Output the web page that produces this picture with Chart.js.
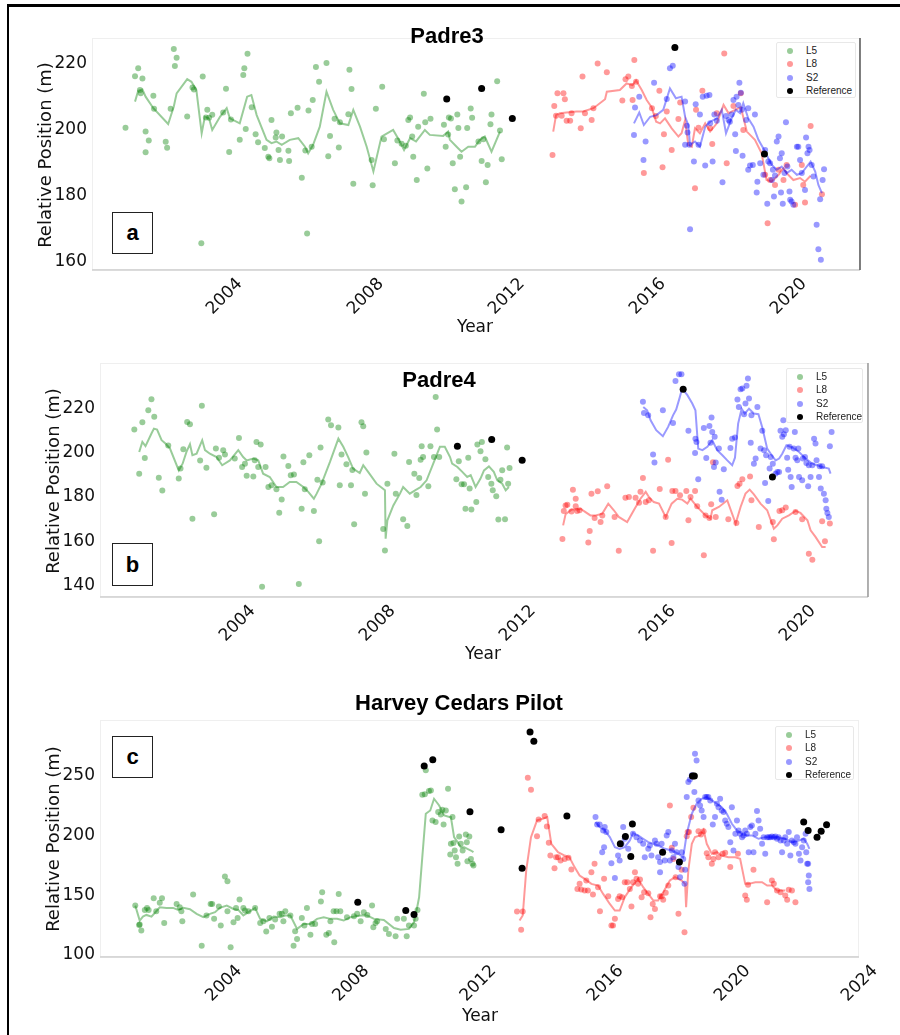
<!DOCTYPE html>
<html lang="en">
<head>
<meta charset="UTF-8">
<title>Relative Position</title>
<script src="https://cdn.jsdelivr.net/npm/chart.js"></script>
<style>
    body { margin: 0; background: #fff; font-family: "DejaVu Sans", sans-serif; }
    #page { position: relative; width: 900px; height: 1035px; overflow: hidden; }
    .frame { position: absolute; left: 7px; top: 4px; width: 1000px; height: 1040px;
             border-left: 2.5px solid #000; border-top: 3px solid #000; }
    canvas { position: absolute; left: 0; }
    .title { position: absolute; transform: translate(-50%, -50%); white-space: nowrap;
             font: bold 22px "Liberation Sans", Arial, sans-serif; color: #000; }
    .ytitle { position: absolute; transform: translate(-50%, -50%) rotate(-90deg); white-space: nowrap;
              font-size: 18px; color: #111; }
    .xtitle { position: absolute; transform: translate(-50%, -50%); font-size: 17px; color: #111; }
    .tag { position: absolute; width: 41px; height: 42px; box-sizing: border-box; border: 1.5px solid #222;
           background: #fff; display: flex; align-items: center; justify-content: center;
           font: bold 22px "Liberation Sans", Arial, sans-serif; }
    .legend { position: absolute; box-sizing: border-box; border: 1px solid #e8e8e8; border-radius: 2px;
              background: #fff; font: 10px "Liberation Sans", Arial, sans-serif; color: #222; padding-top: 1px; }
    .legend div { position: relative; height: 13.3px; line-height: 13.3px; padding-left: 29px; }
    .legend i { position: absolute; left: 10px; top: 4px; width: 6px; height: 6px; border-radius: 50%; }
</style>
</head>
<body>
<div id="page">
    <div class="frame"></div>

    <canvas id="chartA" width="900" height="340" style="top:0"></canvas>
    <canvas id="chartB" width="900" height="330" style="top:340px"></canvas>
    <canvas id="chartC" width="900" height="365" style="top:670px"></canvas>

    <div class="title" style="left:447px; top:36px">Padre3</div>
    <div class="title" style="left:439px; top:380px">Padre4</div>
    <div class="title" style="left:459px; top:703px">Harvey Cedars Pilot</div>

    <div class="ytitle" style="left:44px; top:155px">Relative Position (m)</div>
    <div class="ytitle" style="left:52px; top:481px">Relative Position (m)</div>
    <div class="ytitle" style="left:52px; top:839px">Relative Position (m)</div>

    <div class="xtitle" style="left:475px; top:326px">Year</div>
    <div class="xtitle" style="left:483px; top:653px">Year</div>
    <div class="xtitle" style="left:480px; top:1015px">Year</div>

    <div class="tag" style="left:112px; top:212px">a</div>
    <div class="tag" style="left:112px; top:543px; height:43px">b</div>
    <div class="tag" style="left:112px; top:736px">c</div>

    <div class="legend" style="left:776px; top:42px; width:80px; height:56px"></div>
    <div class="legend" style="left:786px; top:368px; width:77px; height:55px"></div>
    <div class="legend" style="left:775px; top:726px; width:79px; height:54px"></div>
</div>

<script>
    // ---- Padre3 ----
    const padre3L5 = [
        [2001.21,200.7],[2001.48,216.3],[2001.57,218.7],[2001.69,215.6],[2001.62,212.1],[2001.64,211.1],[2001.78,199.5],
        [2001.87,196.8],[2001.78,193.2],[2002.00,210.4],[2002.02,206.4],[2002.35,196.4],[2002.39,194.6],[2002.49,206.4],
        [2002.58,224.6],[2002.66,221.9],[2002.61,219.4],[2002.96,204.1],[2003.11,212.9],[2003.15,212.3],[2003.40,216.2],
        [2003.36,165.6],[2003.53,206.1],[2003.49,203.8],[2003.58,203.7],[2003.67,204.6],[2003.98,205.3],[2004.06,212.5],
        [2004.15,193.3],[2004.20,203.2],[2004.45,197.0],[2004.55,216.7],[2004.58,218.7],[2004.67,223.1],[2004.62,200.3],
        [2004.79,206.9],[2004.90,198.7],[2004.97,196.3],[2005.16,194.5],[2005.26,191.9],[2005.29,191.4],[2005.35,203.0],
        [2005.47,197.7],[2005.49,199.2],[2005.55,193.9],[2005.59,190.9],[2005.65,198.0],[2005.83,193.7],[2005.85,190.6],
        [2005.90,205.1],[2006.09,206.7],[2006.21,185.5],[2006.31,193.8],[2006.36,168.6],[2006.40,205.9],[2006.49,194.9],
        [2006.52,209.1],[2006.61,219.1],[2006.70,214.6],[2006.91,220.3],[2006.96,192.0],[2007.01,198.2],[2007.14,203.4],
        [2007.26,194.7],[2007.29,202.3],[2007.56,218.3],[2007.62,212.4],[2007.67,183.7],[2007.53,204.8],[2008.19,190.9],
        [2008.22,183.2],[2008.31,206.4],[2008.49,213.1],[2008.54,197.2],[2008.85,189.9],[2008.92,196.8],[2009.04,195.8],
        [2009.16,195.2],[2009.23,203.0],[2009.28,203.8],[2009.34,198.0],[2009.37,191.9],[2009.47,184.8],[2009.51,201.0],
        [2009.67,211.0],[2009.71,202.3],[2009.77,188.3],[2009.86,203.4],[2010.24,201.6],[2010.29,194.9],[2010.38,203.8],
        [2010.36,198.6],[2010.44,203.5],[2010.62,204.7],[2011.00,206.5],[2011.04,203.7],[2010.65,200.6],[2010.90,200.6],
        [2010.49,189.9],[2010.70,191.9],[2010.55,182.0],[2010.87,182.6],[2010.74,178.3],[2011.31,190.6],[2011.48,189.4],
        [2011.43,184.1],[2011.59,204.7],[2011.56,201.7],[2011.75,214.8],[2011.83,199.8],[2011.88,191.1],[2011.36,197.2],
        [2011.22,196.5]
    ];
    const padre3L5Line = [
        [2001.48,208.6],[2001.57,211.9],[2001.69,212.3],[2001.78,210.1],[2002.00,206.6],[2002.42,201.8],[2002.58,207.1],
        [2002.66,211.1],[2002.96,215.4],[2003.08,214.6],[2003.22,212.1],[2003.37,199.0],[2003.46,204.0],[2003.58,203.5],
        [2003.67,200.0],[2003.89,204.0],[2004.08,206.6],[2004.17,203.5],[2004.45,202.0],[2004.66,210.1],[2004.78,210.6],
        [2004.93,204.5],[2005.21,197.0],[2005.35,196.0],[2005.49,196.5],[2005.64,195.5],[2005.87,197.0],[2006.11,197.5],
        [2006.30,194.9],[2006.39,192.9],[2006.53,195.5],[2006.72,201.0],[2006.91,211.6],[2007.10,206.1],[2007.29,202.0],
        [2007.53,201.5],[2007.67,206.1],[2007.86,201.0],[2008.05,194.9],[2008.24,187.4],[2008.47,198.0],[2008.80,200.0],
        [2008.99,196.5],[2009.11,193.9],[2009.28,197.5],[2009.45,196.5],[2009.70,200.0],[2009.84,198.5],[2010.22,198.2],
        [2010.36,199.5],[2010.41,197.0],[2010.60,194.9],[2010.74,193.4],[2010.93,194.9],[2011.12,194.9],[2011.26,197.0],
        [2011.40,198.0],[2011.59,193.4],[2011.83,199.5]
    ];
    const padre3L8 = [
        [2013.32,192.4],[2013.37,207.3],[2013.46,211.1],[2013.63,211.1],[2013.67,209.3],[2013.42,204.3],[2013.58,204.3],
        [2013.72,202.8],[2013.82,202.8],[2013.86,205.1],[2014.12,200.5],[2014.17,216.2],[2014.24,205.1],[2014.43,203.0],
        [2014.60,220.2],[2014.86,217.5],[2014.48,206.6],[2015.30,208.9],[2015.39,215.4],[2015.47,216.2],[2015.59,209.1],
        [2015.64,221.2],[2015.57,213.3],[2015.69,214.6],[2015.91,186.9],[2016.14,206.6],[2016.25,204.2],[2016.35,211.9],
        [2016.44,188.7],[2016.48,198.7],[2016.56,205.6],[2016.70,193.9],[2016.89,203.3],[2016.94,208.3],[2017.36,182.3],
        [2017.39,206.1],[2017.46,200.7],[2017.57,211.9],[2017.79,200.5],[2017.85,195.7],[2017.98,205.1],[2018.19,223.2],
        [2018.26,189.9],[2018.73,200.0],[2019.42,171.7],[2019.63,183.3],[2019.73,187.9],[2019.87,184.8],[2019.96,189.4],
        [2020.20,177.3],[2020.39,189.4],[2020.43,183.3],[2020.48,178.0],[2020.64,201.2],[2020.96,180.5],[2019.35,186.4],
        [2019.49,184.8],[2018.45,207.3],[2018.66,211.1]
    ];
    const padre3L8Line = [
        [2013.34,199.5],[2013.42,204.5],[2013.53,205.1],[2013.72,205.3],[2014.00,205.6],[2014.19,205.6],[2014.48,206.6],
        [2014.81,209.3],[2014.86,211.6],[2015.23,212.1],[2015.42,214.1],[2015.59,213.6],[2015.69,215.0],[2015.85,212.1],
        [2015.99,209.1],[2016.13,206.9],[2016.26,202.5],[2016.37,202.0],[2016.51,203.5],[2016.70,200.5],[2016.89,198.0],
        [2016.98,199.0],[2017.08,203.0],[2017.17,195.5],[2017.27,194.9],[2017.36,200.5],[2017.50,199.0],[2017.65,202.0],
        [2017.79,199.5],[2017.98,202.0],[2018.17,207.6],[2018.31,205.1],[2018.50,206.1],[2018.66,206.9],[2018.83,199.5],
        [2019.06,197.0],[2019.25,192.9],[2019.39,184.8],[2019.54,184.3],[2019.73,186.4],[2019.87,188.4],[2019.96,186.9],
        [2020.15,184.8],[2020.34,185.4],[2020.48,184.3],[2020.64,186.1]
    ];
    const padre3S2 = [
        [2015.63,198.5],[2015.66,206.8],[2015.78,210.1],[2015.90,190.9],[2015.96,196.5],[2016.20,214.3],[2016.56,209.4],
        [2016.65,218.7],[2016.73,219.5],[2017.08,208.6],[2017.13,201.3],[2017.15,199.2],[2017.22,169.9],[2017.08,195.5],
        [2017.20,195.5],[2017.33,190.4],[2017.38,207.8],[2017.46,195.5],[2017.50,204.7],[2017.58,210.1],[2017.65,189.2],
        [2017.69,210.4],[2017.77,210.6],[2017.79,202.0],[2017.86,190.4],[2017.91,204.7],[2017.98,202.8],[2018.14,184.1],
        [2018.24,204.2],[2018.31,203.0],[2018.35,202.5],[2018.40,204.7],[2018.45,209.1],[2018.50,198.7],[2018.52,193.6],
        [2018.54,210.1],[2018.59,207.6],[2018.62,214.3],[2018.66,211.3],[2018.69,206.1],[2018.71,192.2],[2018.81,203.0],
        [2018.87,206.6],[2018.87,187.9],[2018.92,189.2],[2019.00,189.4],[2019.06,204.7],[2019.11,181.0],[2019.13,184.3],
        [2019.21,189.9],[2019.30,186.4],[2019.35,193.9],[2019.41,177.6],[2019.44,190.4],[2019.49,189.9],[2019.54,184.8],
        [2019.57,187.9],[2019.60,179.8],[2019.63,186.2],[2019.68,196.5],[2019.73,198.0],[2019.77,191.4],[2019.80,181.0],
        [2019.82,192.9],[2019.85,177.6],[2019.90,186.9],[2019.94,202.3],[2019.98,188.9],[2020.04,181.3],[2020.06,178.8],
        [2020.10,178.3],[2020.15,177.3],[2020.25,194.9],[2020.29,194.9],[2020.34,190.9],[2020.39,186.9],[2020.48,181.8],
        [2020.51,197.7],[2020.55,192.9],[2020.58,194.9],[2020.61,193.9],[2020.67,189.4],[2020.72,185.9],[2020.81,171.2],
        [2020.86,163.8],[2020.93,160.6],[2020.91,179.0],[2020.98,184.8],[2021.02,188.1]
    ];
    const padre3S2Line = [
        [2015.63,202.0],[2015.78,205.3],[2015.91,201.5],[2016.09,204.0],[2016.27,204.5],[2016.46,206.1],[2016.65,212.6],
        [2016.82,209.6],[2016.98,210.1],[2017.08,204.0],[2017.17,201.5],[2017.22,195.5],[2017.36,196.5],[2017.50,194.9],
        [2017.65,201.0],[2017.79,202.5],[2017.98,203.5],[2018.12,206.1],[2018.24,199.0],[2018.40,203.5],[2018.52,206.1],
        [2018.64,205.1],[2018.73,208.1],[2018.87,203.5],[2019.02,201.0],[2019.16,197.0],[2019.30,194.4],[2019.44,191.4],
        [2019.54,189.4],[2019.68,187.9],[2019.82,188.9],[2019.96,186.9],[2020.10,187.9],[2020.25,186.4],[2020.39,186.9],
        [2020.53,188.9],[2020.64,190.4],[2020.77,187.4],[2020.86,183.3],[2020.96,180.8]
    ];
    const padre3Ref = [[2010.32,209.4],[2011.31,212.6],[2012.18,203.5],[2016.79,225.0],[2019.33,192.7]];
    const padre3YTicks = [160, 180, 200, 220];
    const padre3XTicks = [2004, 2008, 2012, 2016, 2020];

    // ---- Padre4 ----
    const padre4L5 = [
        [2001.07,210.4],[2001.21,190.5],[2001.30,213.7],[2001.37,197.6],[2001.47,219.1],[2001.56,224.1],[2001.64,216.2],
        [2001.77,188.7],[2001.87,182.9],[2002.04,203.2],[2002.34,188.3],[2002.39,192.8],[2002.47,201.5],[2002.58,213.8],
        [2002.66,212.8],[2002.73,170.2],[2002.95,196.4],[2003.00,221.1],[2003.13,193.2],[2003.35,172.2],[2003.40,201.8],
        [2003.49,197.7],[2003.61,201.1],[2003.66,199.2],[2003.94,197.3],[2004.06,206.6],[2004.15,193.5],[2004.23,195.0],
        [2004.28,189.6],[2004.47,189.2],[2004.51,196.5],[2004.56,204.8],[2004.61,193.5],[2004.68,203.6],[2004.72,139.5],
        [2004.82,193.5],[2004.90,184.5],[2004.99,185.3],[2005.13,183.5],[2005.21,172.9],[2005.28,178.9],[2005.33,198.2],
        [2005.47,194.0],[2005.54,189.8],[2005.63,190.1],[2005.77,140.8],[2005.85,174.7],[2005.90,195.6],[2005.94,183.5],
        [2006.07,198.8],[2006.20,173.7],[2006.30,187.8],[2006.35,160.0],[2006.39,202.3],[2006.45,186.5],[2006.61,214.9],
        [2006.69,212.3],[2006.90,211.3],[2006.94,185.3],[2006.99,199.1],[2007.13,194.7],[2007.26,185.3],[2007.30,192.2],
        [2007.35,167.7],[2007.56,213.7],[2007.61,211.9],[2007.66,181.5],[2007.70,200.0],[2008.18,165.6],[2008.23,155.9],
        [2008.30,186.0],[2008.50,199.5],[2008.54,181.4],[2008.75,169.9],[2008.87,166.9],[2008.92,195.8],[2009.07,190.5],
        [2009.13,180.9],[2009.21,188.6],[2009.25,196.8],[2009.28,202.9],[2009.32,198.0],[2009.47,184.8],[2009.53,202.9],
        [2009.63,198.0],[2009.68,225.1],[2009.72,210.4],[2009.78,198.0],[2010.27,188.0],[2010.34,196.1],[2010.42,185.7],
        [2010.49,185.7],[2010.61,197.7],[2010.65,183.8],[2010.53,174.7],[2010.70,174.3],[2010.84,177.7],[2010.87,203.6],
        [2011.00,204.8],[2010.96,200.6],[2011.10,197.0],[2011.18,189.0],[2011.27,186.0],[2011.31,183.0],[2011.41,180.3],
        [2011.47,169.8],[2011.53,187.8],[2011.58,192.0],[2011.66,169.9],[2011.72,202.3],[2011.75,186.0],[2011.79,193.1]
    ];
    const padre4L5Line = [
        [2001.21,200.3],[2001.30,204.8],[2001.39,202.9],[2001.56,208.6],[2001.63,210.8],[2001.72,210.4],[2001.85,205.6],
        [2001.96,204.1],[2002.09,201.8],[2002.34,192.0],[2002.45,195.0],[2002.56,200.3],[2002.66,203.8],[2002.73,198.8],
        [2002.85,199.5],[2003.01,205.6],[2003.09,201.1],[2003.23,199.5],[2003.42,198.0],[2003.58,194.3],[2003.80,196.5],
        [2004.04,201.1],[2004.18,198.0],[2004.28,196.5],[2004.47,197.3],[2004.61,196.5],[2004.75,190.5],[2004.94,189.0],
        [2005.13,184.5],[2005.32,184.5],[2005.51,186.8],[2005.70,186.8],[2005.90,184.5],[2006.04,182.3],[2006.20,179.2],
        [2006.28,181.5],[2006.42,186.0],[2006.66,195.8],[2006.90,206.3],[2007.04,202.6],[2007.18,198.0],[2007.32,192.8],
        [2007.51,190.8],[2007.61,194.3],[2007.75,191.3],[2007.99,186.0],[2008.23,183.0],[2008.25,161.2],[2008.30,169.5],
        [2008.47,176.2],[2008.66,181.5],[2008.75,184.5],[2008.94,181.5],[2009.09,183.0],[2009.25,184.5],[2009.42,187.5],
        [2009.61,195.0],[2009.80,202.6],[2009.94,202.6],[2010.09,198.0],[2010.15,195.0],[2010.30,193.5],[2010.44,191.3],
        [2010.58,189.0],[2010.68,189.8],[2010.82,184.5],[2010.96,188.3],[2011.06,192.0],[2011.20,193.8],[2011.34,191.3],
        [2011.44,187.5],[2011.58,186.0],[2011.68,183.0],[2011.77,184.5]
    ];
    const padre4L8 = [
        [2013.30,161.1],[2013.34,173.7],[2013.39,176.2],[2013.44,176.5],[2013.56,173.5],[2013.60,183.3],[2013.68,179.2],
        [2013.68,175.8],[2013.72,173.7],[2013.79,174.0],[2014.04,159.5],[2014.08,164.7],[2014.13,181.4],[2014.22,170.5],
        [2014.31,182.6],[2014.39,168.7],[2014.44,171.7],[2014.58,184.8],[2014.79,171.0],[2014.91,155.8],[2015.10,179.7],
        [2015.20,180.0],[2015.39,179.7],[2015.49,177.4],[2015.53,182.3],[2015.60,188.6],[2015.68,177.7],[2015.77,178.5],
        [2015.89,155.8],[2016.08,183.6],[2016.25,171.0],[2016.32,196.8],[2016.42,159.2],[2016.44,182.7],[2016.53,182.7],
        [2016.66,180.8],[2016.84,182.7],[2016.90,169.5],[2016.96,180.0],[2017.09,182.7],[2017.15,175.8],[2017.34,153.7],
        [2017.39,171.7],[2017.50,170.5],[2017.55,176.7],[2017.60,195.6],[2017.68,171.0],[2018.04,169.9],[2018.27,168.3],
        [2018.30,185.0],[2018.36,186.0],[2018.44,188.0],[2018.66,189.2],[2018.70,178.5],[2018.91,166.5],[2019.34,160.9],
        [2019.50,173.7],[2019.58,174.0],[2019.68,175.2],[2019.96,173.2],[2020.15,169.9],[2020.34,154.4],[2020.44,151.7],
        [2020.72,169.0],[2020.80,160.0],[2020.94,168.0],[2019.31,168.7]
    ];
    const padre4L8Line = [
        [2013.32,167.2],[2013.39,172.2],[2013.56,174.3],[2013.72,174.3],[2013.82,174.7],[2013.96,173.2],[2014.10,171.7],
        [2014.25,171.7],[2014.44,172.5],[2014.61,177.0],[2014.77,174.0],[2014.91,171.0],[2015.15,168.7],[2015.34,174.0],
        [2015.53,179.2],[2015.68,182.3],[2015.77,180.0],[2015.91,177.7],[2016.06,177.0],[2016.25,171.0],[2016.42,177.0],
        [2016.58,179.2],[2016.72,178.8],[2016.87,177.0],[2016.96,179.2],[2017.15,175.5],[2017.39,171.7],[2017.53,170.2],
        [2017.58,174.0],[2017.77,175.5],[2018.01,178.5],[2018.25,168.0],[2018.39,175.5],[2018.53,181.5],[2018.65,183.3],
        [2018.77,181.2],[2018.96,177.0],[2019.15,174.0],[2019.34,165.7],[2019.44,167.2],[2019.58,170.2],[2019.77,171.7],
        [2019.96,173.7],[2020.10,172.8],[2020.30,169.5],[2020.39,165.0],[2020.53,162.0],[2020.72,157.4],[2020.82,157.4]
    ];
    const padre4S2 = [
        [2015.60,222.9],[2015.63,217.9],[2015.75,216.8],[2015.89,199.2],[2015.93,195.5],[2016.17,219.1],[2016.46,213.4],
        [2016.53,232.3],[2016.63,235.3],[2016.70,235.3],[2016.90,209.8],[2017.10,206.3],[2017.13,204.8],[2017.09,199.8],
        [2017.18,188.0],[2017.34,211.1],[2017.41,197.6],[2017.50,212.0],[2017.56,215.8],[2017.53,204.4],[2017.58,209.3],
        [2017.65,207.1],[2017.63,193.5],[2017.68,195.5],[2017.77,201.8],[2017.79,182.3],[2017.85,178.8],[2017.91,192.5],
        [2018.10,202.1],[2018.15,206.3],[2018.23,206.8],[2018.30,223.9],[2018.34,220.6],[2018.39,228.6],[2018.44,228.9],
        [2018.49,217.3],[2018.53,222.1],[2018.56,230.1],[2018.60,233.4],[2018.63,224.4],[2018.68,204.5],[2018.70,216.8],
        [2018.77,195.0],[2018.82,197.3],[2018.87,220.6],[2018.96,201.8],[2019.01,209.8],[2019.06,201.1],[2019.09,186.3],
        [2019.12,198.8],[2019.18,178.2],[2019.22,192.8],[2019.25,198.0],[2019.31,195.0],[2019.39,190.5],[2019.44,191.3],
        [2019.49,191.3],[2019.53,209.8],[2019.58,207.1],[2019.61,214.6],[2019.63,208.3],[2019.68,210.1],[2019.72,197.7],
        [2019.75,192.3],[2019.79,202.6],[2019.82,189.0],[2019.85,184.5],[2019.91,201.8],[2019.94,209.3],[2019.96,197.7],
        [2020.01,196.5],[2020.04,201.8],[2020.06,189.0],[2020.15,187.5],[2020.17,197.3],[2020.23,198.0],[2020.27,195.3],
        [2020.32,184.8],[2020.34,194.3],[2020.39,189.0],[2020.44,194.3],[2020.49,206.3],[2020.53,204.1],[2020.56,196.5],
        [2020.63,189.0],[2020.65,193.8],[2020.68,183.8],[2020.72,193.8],[2020.77,181.5],[2020.82,178.5],[2020.84,174.7],
        [2020.87,172.8],[2020.91,171.0],[2020.94,202.9],[2020.99,209.3]
    ];
    const padre4S2Line = [
        [2015.61,220.6],[2015.72,219.1],[2015.82,214.6],[2015.98,210.1],[2016.17,207.4],[2016.32,211.6],[2016.46,216.8],
        [2016.55,219.4],[2016.65,224.8],[2016.72,228.9],[2016.87,225.9],[2017.01,222.1],[2017.10,219.1],[2017.18,201.8],
        [2017.30,201.1],[2017.44,202.6],[2017.58,205.6],[2017.72,201.1],[2017.87,198.8],[2018.01,196.5],[2018.15,194.3],
        [2018.23,197.7],[2018.32,213.1],[2018.42,219.8],[2018.51,217.6],[2018.63,219.8],[2018.77,217.6],[2018.90,217.3],
        [2019.01,211.3],[2019.15,201.8],[2019.28,198.8],[2019.39,196.5],[2019.49,197.3],[2019.58,199.5],[2019.70,203.3],
        [2019.87,202.3],[2020.06,200.3],[2020.25,197.3],[2020.44,195.0],[2020.58,194.3],[2020.72,193.5],[2020.91,192.8],
        [2020.96,190.5]
    ];
    const padre4Ref = [[2010.30,202.9],[2011.28,205.9],[2012.15,196.5],[2016.75,228.6],[2019.30,189.0]];
    const padre4YTicks = [140, 160, 180, 200, 220];
    const padre4XTicks = [2004, 2008, 2012, 2016, 2020];

    // ---- Harvey Cedars Pilot ----
    const harveyL5 = [
        [2001.23,141.3],[2001.37,125.4],[2001.42,120.4],[2001.35,125.1],[2001.53,137.7],[2001.60,139.4],[2001.65,137.7],
        [2001.81,147.5],[2001.89,136.6],[2002.00,143.6],[2002.07,147.5],[2002.14,126.8],[2002.53,142.7],[2002.63,139.9],
        [2002.71,128.2],[2002.68,136.6],[2003.05,150.6],[2003.32,107.8],[2003.47,133.0],[2003.60,142.7],[2003.65,142.7],
        [2003.71,130.2],[2003.86,140.5],[2003.92,124.6],[2004.05,165.6],[2004.13,161.7],[2004.13,136.6],[2004.23,106.4],
        [2004.32,127.4],[2004.40,139.4],[2004.45,131.0],[2004.51,146.4],[2004.63,139.4],[2004.68,137.2],[2004.79,136.6],
        [2005.00,139.4],[2005.16,126.8],[2005.26,128.2],[2005.35,119.6],[2005.45,131.0],[2005.53,123.7],[2005.63,129.6],
        [2005.77,134.4],[2005.84,134.4],[2005.89,128.2],[2005.95,136.6],[2006.11,133.0],[2006.26,119.8],[2006.32,113.4],
        [2006.21,107.8],[2006.47,131.0],[2006.55,124.6],[2006.63,139.4],[2006.74,117.0],[2006.79,126.0],[2006.89,126.0],
        [2007.11,152.5],[2007.07,144.7],[2007.24,117.0],[2007.32,118.4],[2007.37,128.2],[2007.47,136.6],[2007.49,110.6],
        [2007.56,136.6],[2007.63,151.1],[2007.68,136.6],[2007.89,131.6],[2008.11,132.4],[2008.21,134.4],[2008.32,128.2],
        [2008.42,135.8],[2008.53,133.5],[2008.68,141.3],[2008.72,123.2],[2008.79,126.8],[2008.84,128.2],[2009.11,121.8],
        [2009.21,117.6],[2009.42,115.6],[2009.47,130.2],[2009.68,130.2],[2009.77,115.6],[2009.84,124.6],[2010.00,124.6],
        [2010.05,130.2],[2010.11,137.7],[2010.26,234.1],[2010.34,234.4],[2010.37,254.5],[2010.47,237.2],[2010.53,237.7],
        [2010.58,212.6],[2010.68,211.2],[2010.76,219.6],[2010.84,217.6],[2010.93,209.2],[2010.89,221.5],[2011.00,220.9],
        [2011.07,239.1],[2011.14,184.1],[2011.16,193.0],[2011.21,215.4],[2011.24,193.6],[2011.28,187.4],[2011.32,181.8],
        [2011.37,176.3],[2011.42,199.2],[2011.47,193.0],[2011.53,187.4],[2011.63,200.8],[2011.66,194.4],[2011.68,178.5],
        [2011.74,199.2],[2011.79,180.4],[2011.84,176.3],[2011.87,174.9]
    ];
    const harveyL5Line = [
        [2001.23,141.3],[2001.37,128.8],[2001.47,132.1],[2001.58,133.5],[2001.74,132.1],[2001.89,136.6],[2002.00,139.9],
        [2002.21,139.4],[2002.42,139.4],[2002.58,137.7],[2002.74,139.4],[2002.95,138.3],[2003.16,134.4],[2003.37,131.6],
        [2003.58,134.4],[2003.74,135.8],[2003.89,139.4],[2004.11,141.3],[2004.32,138.5],[2004.47,137.7],[2004.63,133.0],
        [2004.79,135.8],[2005.00,139.4],[2005.16,130.2],[2005.37,128.2],[2005.58,132.1],[2005.79,131.6],[2005.95,133.0],
        [2006.11,133.0],[2006.32,121.8],[2006.53,126.0],[2006.74,126.0],[2006.95,130.2],[2007.16,131.6],[2007.37,130.2],
        [2007.58,130.2],[2007.79,128.8],[2008.00,131.6],[2008.32,133.0],[2008.53,133.0],[2008.74,130.2],[2009.05,129.3],
        [2009.37,122.6],[2009.58,121.2],[2009.84,121.8],[2010.00,127.4],[2010.08,137.2],[2010.16,148.3],[2010.26,181.8],
        [2010.37,218.2],[2010.51,220.9],[2010.63,230.7],[2010.79,225.1],[2010.95,216.8],[2011.11,215.4],[2011.16,215.4],
        [2011.26,198.6],[2011.37,194.4],[2011.47,190.2],[2011.58,190.2],[2011.68,188.8],[2011.79,187.4],[2011.87,186.0]
    ];
    const harveyL8 = [
        [2013.24,136.3],[2013.37,121.2],[2013.42,136.3],[2013.58,248.3],[2013.68,238.3],[2013.87,199.4],[2013.92,213.4],
        [2014.11,216.2],[2014.18,207.5],[2014.24,193.9],[2014.29,183.2],[2014.42,172.6],[2014.47,181.8],[2014.53,181.8],
        [2014.61,179.1],[2014.74,180.4],[2014.86,181.3],[2014.95,171.5],[2015.14,155.3],[2015.21,159.5],[2015.26,154.7],
        [2015.37,153.9],[2015.42,162.3],[2015.47,153.9],[2015.58,169.3],[2015.63,150.6],[2015.68,176.3],[2015.79,156.7],
        [2015.85,136.6],[2015.98,163.7],[2016.11,149.2],[2016.21,124.6],[2016.26,124.6],[2016.32,130.2],[2016.42,146.9],
        [2016.47,149.2],[2016.55,148.3],[2016.63,160.9],[2016.71,160.9],[2016.79,155.3],[2016.84,140.5],[2016.89,160.9],
        [2016.95,169.3],[2017.00,163.7],[2017.05,159.5],[2017.11,163.1],[2017.16,148.3],[2017.24,152.5],[2017.37,151.7],
        [2017.44,131.6],[2017.51,142.7],[2017.58,138.5],[2017.74,149.2],[2017.79,148.9],[2017.84,146.1],[2017.92,152.0],
        [2018.00,158.1],[2018.05,225.1],[2018.11,189.7],[2018.16,180.4],[2018.23,165.1],[2018.32,134.4],[2018.42,171.2],
        [2018.51,119.0],[2018.58,199.4],[2018.61,202.8],[2018.65,202.8],[2018.72,215.4],[2018.79,223.2],[2018.95,203.6],
        [2019.03,200.8],[2019.11,203.6],[2019.21,185.2],[2019.26,181.8],[2019.37,176.3],[2019.42,180.4],[2019.47,186.0],
        [2019.58,181.8],[2019.71,184.6],[2019.79,185.5],[2019.95,173.5],[2020.19,184.6],[2020.42,149.7],[2020.47,146.1],
        [2020.51,158.7],[2020.68,171.2],[2021.11,144.1],[2021.26,162.3],[2021.32,159.5],[2021.42,153.9],[2021.53,152.5],
        [2021.68,149.7],[2021.74,146.1],[2021.79,154.5],[2022.00,144.1],[2021.89,153.9]
    ];
    const harveyL8Line = [
        [2013.32,128.8],[2013.42,133.0],[2013.53,170.7],[2013.68,198.6],[2013.87,212.6],[2014.05,214.0],[2014.19,215.4],
        [2014.32,193.0],[2014.53,186.0],[2014.74,183.2],[2014.89,181.8],[2015.05,173.5],[2015.21,166.5],[2015.37,163.7],
        [2015.58,159.5],[2015.79,158.1],[2015.95,151.1],[2016.16,142.7],[2016.32,137.2],[2016.47,137.2],[2016.63,148.3],
        [2016.84,156.7],[2017.05,163.7],[2017.21,156.7],[2017.37,151.1],[2017.53,145.5],[2017.68,145.5],[2017.84,152.5],
        [2018.05,162.3],[2018.21,165.1],[2018.42,162.3],[2018.53,159.5],[2018.56,139.9],[2018.63,170.7],[2018.74,193.0],
        [2018.84,198.6],[2019.00,200.0],[2019.11,204.7],[2019.21,193.0],[2019.37,184.6],[2019.53,186.0],[2019.68,183.2],
        [2019.89,181.8],[2020.11,181.8],[2020.26,180.4],[2020.42,159.5],[2020.53,159.5],[2020.74,160.9],[2020.95,160.9],
        [2021.11,158.1],[2021.26,158.1],[2021.42,153.9],[2021.58,153.9],[2021.68,153.9]
    ];
    const harveyS2 = [
        [2015.71,215.4],[2015.76,209.2],[2015.84,209.2],[2015.95,204.2],[2016.00,207.0],[2016.05,202.8],[2015.92,186.0],
        [2015.98,190.2],[2016.21,176.8],[2016.32,164.5],[2016.42,183.2],[2016.47,179.1],[2016.53,193.0],[2016.58,207.0],
        [2016.63,197.2],[2016.74,188.8],[2016.89,201.4],[2017.00,198.6],[2017.11,195.8],[2017.21,193.0],[2017.26,181.8],
        [2017.37,188.8],[2017.42,191.6],[2017.47,183.2],[2017.58,195.8],[2017.63,193.0],[2017.68,181.8],[2017.74,169.3],
        [2017.74,177.7],[2017.79,193.0],[2017.89,179.1],[2017.95,200.0],[2018.00,202.8],[2018.05,179.1],[2018.11,187.4],
        [2018.16,181.8],[2018.21,193.0],[2018.26,186.0],[2018.32,173.5],[2018.37,165.1],[2018.42,186.0],[2018.47,180.4],
        [2018.51,159.5],[2018.53,171.2],[2018.58,232.1],[2018.63,244.7],[2018.68,246.9],[2018.74,250.3],[2018.82,236.3],
        [2018.84,268.4],[2018.89,262.8],[2018.95,229.3],[2019.00,225.1],[2019.05,220.9],[2019.11,215.4],[2019.16,232.1],
        [2019.21,232.1],[2019.26,232.1],[2019.32,229.3],[2019.40,209.2],[2019.47,215.4],[2019.53,226.5],[2019.58,223.7],
        [2019.63,230.7],[2019.68,220.9],[2019.74,219.6],[2019.79,212.6],[2019.84,209.8],[2019.89,207.0],[2019.95,194.4],
        [2020.00,223.7],[2020.05,187.4],[2020.11,201.4],[2020.16,212.6],[2020.21,204.2],[2020.26,201.4],[2020.32,198.6],
        [2020.37,200.0],[2020.42,204.2],[2020.47,201.4],[2020.53,186.0],[2020.58,207.0],[2020.63,208.4],[2020.68,186.0],
        [2020.74,201.4],[2020.79,220.4],[2020.84,212.6],[2020.89,205.6],[2020.95,193.0],[2021.00,198.6],[2021.05,184.6],
        [2021.11,198.6],[2021.16,198.6],[2021.21,198.6],[2021.26,199.2],[2021.32,198.6],[2021.37,199.2],[2021.42,197.2],
        [2021.47,198.6],[2021.53,195.8],[2021.58,186.0],[2021.63,195.8],[2021.68,198.6],[2021.74,193.0],[2021.79,202.8],
        [2021.84,183.2],[2021.89,195.8],[2021.95,194.4],[2022.00,193.0],[2022.05,198.6],[2022.11,184.6],[2022.16,179.1],
        [2022.21,190.2],[2022.26,195.8],[2022.32,201.4],[2022.34,186.0],[2022.37,176.3],[2022.40,176.3],[2022.42,166.5],
        [2022.44,155.3],[2022.40,160.9]
    ];
    const harveyS2Line = [
        [2015.71,211.2],[2015.84,207.0],[2016.00,204.2],[2016.16,198.6],[2016.32,190.2],[2016.47,188.8],[2016.63,190.2],
        [2016.79,195.8],[2016.89,202.0],[2017.05,200.0],[2017.21,197.2],[2017.37,194.4],[2017.53,193.0],[2017.68,191.6],
        [2017.89,188.8],[2018.11,187.4],[2018.32,184.6],[2018.47,181.8],[2018.58,201.4],[2018.74,218.2],[2018.89,226.5],
        [2019.05,230.7],[2019.21,232.1],[2019.37,229.3],[2019.53,226.5],[2019.68,223.7],[2019.84,218.2],[2020.00,209.8],
        [2020.16,204.2],[2020.32,201.4],[2020.47,200.0],[2020.63,200.0],[2020.84,197.2],[2021.05,198.6],[2021.26,198.6],
        [2021.47,198.6],[2021.68,197.2],[2021.89,194.4],[2022.11,195.8],[2022.26,197.2],[2022.37,193.0],[2022.44,188.8]
    ];
    const harveyRef = [
        [2008.23,144.1],[2009.74,137.2],[2010.00,133.8],[2010.32,258.1],[2010.59,263.4],[2011.76,219.8],[2012.74,204.7],
        [2013.40,172.6],[2013.65,286.6],[2013.77,278.8],[2014.81,216.2],[2016.49,193.0],[2016.65,199.2],[2016.82,182.4],
        [2016.87,209.5],[2017.82,186.0],[2018.35,177.7],[2018.76,249.7],[2018.82,249.7],[2022.26,211.2],[2022.40,204.2],
        [2022.68,198.6],[2022.81,203.6],[2022.98,208.9]
    ];
    const harveyYTicks = [100, 150, 200, 250];
    const harveyXTicks = [2004, 2008, 2012, 2016, 2020, 2024];

    const seriesNames = ['L5', 'L8', 'S2', 'Reference'];
    const seriesColors = ['rgba(0,128,0,0.4)', 'rgba(255,0,0,0.4)', 'rgba(0,0,255,0.4)', '#000'];

    // light box round the plot, grey baseline, optional darker right spine
    const plotFrame = {
        id: 'plotFrame',
        beforeDatasetsDraw(chart, args, opts) {
            const { ctx, chartArea: { left, top, right, bottom } } = chart;
            ctx.save();
            ctx.strokeStyle = '#efefef';
            ctx.lineWidth = 1;
            ctx.strokeRect(left + 0.5, top + 0.5, right - left - 1, bottom - top - 1);
            ctx.strokeStyle = '#cfcfcf';
            ctx.lineWidth = 1.5;
            ctx.beginPath(); ctx.moveTo(left, bottom); ctx.lineTo(right, bottom); ctx.stroke();
            if (opts.right) {
                ctx.strokeStyle = opts.right;
                ctx.beginPath(); ctx.moveTo(right, top); ctx.lineTo(right, bottom); ctx.stroke();
            }
            ctx.restore();
        }
    };

    const toXY = arr => arr.map(p => ({ x: p[0], y: p[1] }));

    function pointSet(arr, color, r) {
        return { data: toXY(arr), showLine: false, pointRadius: r, pointBackgroundColor: color,
                 pointBorderWidth: 0, pointHoverRadius: r };
    }
    function lineSet(arr, color) {
        return { data: toXY(arr), showLine: true, pointRadius: 0, borderColor: color,
                 borderWidth: 2, tension: 0, fill: false };
    }

    function makePanel(id, p) {
        const datasets = [
            pointSet(p.ref, seriesColors[3], 3.5),
            lineSet(p.s2Line, seriesColors[2]), pointSet(p.s2, seriesColors[2], 3),
            lineSet(p.l8Line, seriesColors[1]), pointSet(p.l8, seriesColors[1], 3),
            lineSet(p.l5Line, seriesColors[0]), pointSet(p.l5, seriesColors[0], 3)
        ];
        const tickFont = { family: 'DejaVu Sans', size: 17 };
        new Chart(document.getElementById(id), {
            type: 'scatter',
            data: { datasets },
            options: {
                responsive: false,
                animation: false,
                events: [],
                layout: { padding: { left: 0, top: p.top, right: p.right, bottom: 0 } },
                plugins: { legend: { display: false }, tooltip: { enabled: false }, plotFrame: { right: p.spine } },
                scales: {
                    x: {
                        type: 'linear', min: p.xMin, max: p.xMax,
                        grid: { display: false, drawTicks: false }, border: { display: false },
                        afterBuildTicks: s => { s.ticks = p.xTicks.map(v => ({ value: v })); },
                        afterFit: s => { s.height = p.xH; },
                        ticks: { autoSkip: false, minRotation: 45, maxRotation: 45, padding: 4, labelOffset: 16,
                                 color: '#111', font: tickFont, callback: v => String(v) }
                    },
                    y: {
                        type: 'linear', min: p.yMin, max: p.yMax,
                        grid: { display: false, drawTicks: false }, border: { display: false },
                        afterBuildTicks: s => { s.ticks = p.yTicks.map(v => ({ value: v })); },
                        afterFit: s => { s.width = p.yW; },
                        ticks: { padding: 5, color: '#111', font: tickFont, callback: v => String(v) }
                    }
                }
            },
            plugins: [plotFrame]
        });
    }

    makePanel('chartA', {
        l5: padre3L5, l5Line: padre3L5Line, l8: padre3L8, l8Line: padre3L8Line,
        s2: padre3S2, s2Line: padre3S2Line, ref: padre3Ref,
        xMin: 2000.26, xMax: 2022.04, yMin: 157.5, yMax: 227.9,
        xTicks: padre3XTicks, yTicks: padre3YTicks,
        top: 38, right: 40, yW: 92, xH: 70, spine: '#555'
    });
    makePanel('chartB', {
        l5: padre4L5, l5Line: padre4L5Line, l8: padre4L8, l8Line: padre4L8Line,
        s2: padre4S2, s2Line: padre4S2Line, ref: padre4Ref,
        xMin: 2000.09, xMax: 2022.03, yMin: 134.9, yMax: 240.4,
        xTicks: padre4XTicks, yTicks: padre4YTicks,
        top: 23, right: 32, yW: 100, xH: 73, spine: '#999'
    });
    makePanel('chartC', {
        l5: harveyL5, l5Line: harveyL5Line, l8: harveyL8, l8Line: harveyL8Line,
        s2: harveyS2, s2Line: harveyS2Line, ref: harveyRef,
        xMin: 2000.12, xMax: 2024.0, yMin: 98.3, yMax: 296.6,
        xTicks: harveyXTicks, yTicks: harveyYTicks,
        top: 50, right: 41, yW: 100, xH: 78, spine: null
    });

    // legend boxes: one row per series
    document.querySelectorAll('.legend').forEach(box => {
        seriesNames.forEach((name, i) => {
            const row = document.createElement('div');
            const dot = document.createElement('i');
            dot.style.background = seriesColors[i];
            row.appendChild(dot);
            row.appendChild(document.createTextNode(name));
            box.appendChild(row);
        });
    });
</script>
</body>
</html>
